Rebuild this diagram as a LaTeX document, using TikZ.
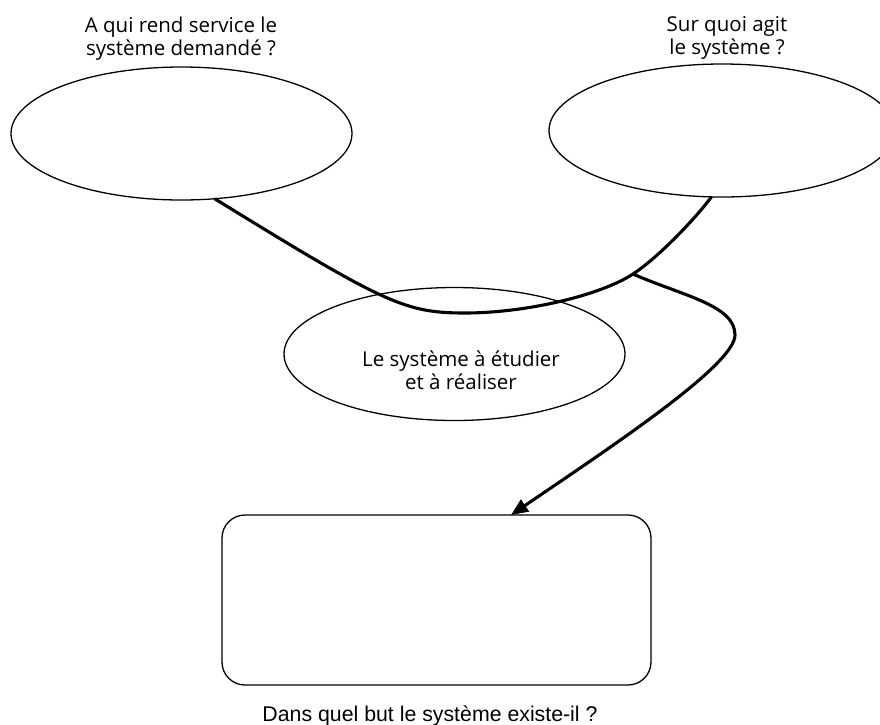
\documentclass[tikz,border=0pt]{standalone}
\usepackage{fontspec}
\setmainfont{Liberation Sans}
\newfontfamily\humfont{Open Sans}
\usetikzlibrary{shapes.geometric,arrows.meta}
\begin{document}
\begin{tikzpicture}[x=1pt,y=-1pt,
  oval/.style={draw, ellipse, line width=1.3pt, inner sep=0pt, outer sep=0pt,
    minimum width=341pt, minimum height=133pt},
  box/.style={draw, rectangle, rounded corners=23pt, line width=1.3pt, inner sep=0pt,
    outer sep=0pt, minimum width=429pt, minimum height=170pt},
  link/.style={line width=3.1pt},
  qtext/.style={font=\humfont\fontsize{20.5}{22.5}\selectfont, align=center, inner sep=0pt},
  btext/.style={font=\fontsize{21.3}{25}\selectfont, inner sep=0pt}]
\useasboundingbox (0,0) rectangle (880,724);
\clip (0,0) rectangle (880,724);
\fill[white] (0,0) rectangle (880,724);

\node[oval] (L) at (181.5,133.5) {};
\node[oval, minimum width=346pt] (R) at (722,130.5) {};
\node[oval] (Mid) at (454.5,354) {};
\node[box] (Rect) at (436.5,600) {};

\node[qtext] (Lt) at (181,38.5) {A qui rend service le\\système demandé ?};
\node[qtext] (Rt) at (727,38) {Sur quoi agit\\le système ?};
\node[qtext] (Mt) at (461,370.3) {Le système à étudier\\et à réaliser};
\node[btext, anchor=base] (Bt) at (430,721) {Dans quel but le système existe-il ?};

\coordinate (M) at (465,313);
\coordinate (B) at (633,274);
\coordinate (V) at (735,335);
\coordinate (T) at (511,515);

\draw[link] (L.-63) .. controls (385,303.7) and (405,313) .. (M)
  .. controls (525,313) and (599.5,295.8) .. (B)
  .. controls (658,257.7) and (695,219) .. (R.-99);
\draw[link, -{Triangle[length=17pt,width=14pt]}] (B)
  .. controls (683,296) and (735,305) .. (V)
  .. controls (735,365) and (611,447) .. (T);
\end{tikzpicture}
\end{document}
